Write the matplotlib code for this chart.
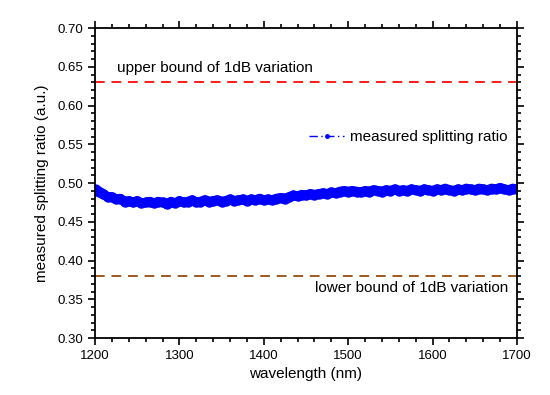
import numpy as np
import matplotlib.pyplot as plt
from matplotlib.lines import Line2D
from matplotlib.ticker import MultipleLocator

plt.rcParams["font.family"] = ["Liberation Sans", "DejaVu Sans"]

# measured splitting ratio, read every 5 nm
wavelength = np.arange(1200, 1701, 5)
ratio = [
    0.493, 0.489, 0.486, 0.482, 0.482, 0.479, 0.480, 0.476, 0.477, 0.475,
    0.477, 0.474, 0.475, 0.476, 0.474, 0.476, 0.475, 0.473, 0.476, 0.474,
    0.477, 0.475, 0.476, 0.478, 0.475, 0.476, 0.478, 0.476, 0.477, 0.478,
    0.476, 0.477, 0.479, 0.477, 0.478, 0.479, 0.477, 0.479, 0.478, 0.480,
    0.478, 0.479, 0.478, 0.480, 0.481, 0.480, 0.482, 0.484, 0.483, 0.485,
    0.484, 0.486, 0.485, 0.486, 0.487, 0.486, 0.488, 0.487, 0.489, 0.490,
    0.489, 0.490, 0.489, 0.488, 0.490, 0.489, 0.491, 0.490, 0.489, 0.491,
    0.490, 0.492, 0.490, 0.491, 0.490, 0.492, 0.491, 0.490, 0.492, 0.491,
    0.490, 0.492, 0.491, 0.493, 0.491, 0.490, 0.492, 0.491, 0.493, 0.492,
    0.491, 0.493, 0.492, 0.491, 0.493, 0.492, 0.494, 0.492, 0.491, 0.493,
    0.492,
]
upper_bound = 0.63
lower_bound = 0.38

fig = plt.figure(figsize=(5.5, 3.95), dpi=100)
ax = fig.add_axes([0.1727, 0.144, 0.7673, 0.785])

ax.plot(wavelength, ratio, color="#0000ff", linewidth=7,
        marker="o", markersize=6.5, solid_capstyle="butt")
ax.axhline(upper_bound, color="#ff1a1a", linestyle=(0, (5, 3.5)), linewidth=1.4)
ax.axhline(lower_bound, color="#9c5a1e", linestyle=(0, (5, 3.5)), linewidth=1.4)

ax.text(1226, 0.648, "upper bound of 1dB variation", fontsize=11,
        ha="left", va="center")
ax.text(1690, 0.3645, "lower bound of 1dB variation", fontsize=11,
        ha="right", va="center")

handle = Line2D([], [], color="#0000ff", linestyle=(0, (6, 2.5, 1, 2.5)),
                linewidth=1, marker="o", markersize=2.5, markevery=[1])
ax.legend([handle], ["measured splitting ratio"], loc="center left",
          bbox_to_anchor=(0.475, 0.648), frameon=False, fontsize=11,
          handlelength=2.3, handletextpad=0.4)

ax.set_xlim(1200, 1700)
ax.set_ylim(0.30, 0.70)
ax.xaxis.set_major_locator(MultipleLocator(100))
ax.xaxis.set_minor_locator(MultipleLocator(20))
ax.yaxis.set_major_locator(MultipleLocator(0.05))
ax.yaxis.set_minor_locator(MultipleLocator(0.01))
ax.yaxis.set_major_formatter(plt.FormatStrFormatter("%.2f"))

ax.tick_params(which="both", direction="out", top=True, right=True,
               labelsize=9.5, width=1.2)
ax.tick_params(which="major", length=5)
ax.tick_params(which="minor", length=3)
for s in ax.spines.values():
    s.set_linewidth(1.3)

ax.set_xlabel("wavelength (nm)", fontsize=11, labelpad=4)
ax.set_ylabel("measured splitting ratio (a.u.)", fontsize=11, labelpad=6)

fig.savefig("out.png", dpi=100)
